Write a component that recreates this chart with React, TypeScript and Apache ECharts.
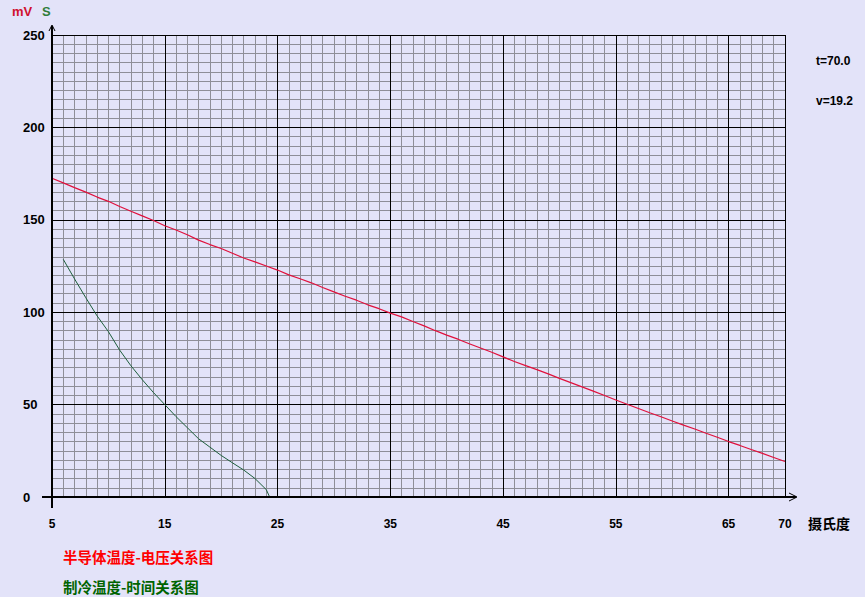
import React, { useEffect, useRef } from "react";
import * as echarts from "echarts";

// Semiconductor temperature (°C) vs. voltage (mV)
const voltTemps = [
  5, 6, 7, 8, 9, 10, 11, 12, 13, 14, 15, 16, 17, 18, 19, 20, 21, 22, 23, 24, 25,
  26, 27, 28, 29, 30, 31, 32, 33, 34, 35, 36, 37, 38, 39, 40, 41, 42, 43, 44, 45,
  46, 47, 48, 49, 50, 51, 52, 53, 54, 55, 56, 57, 58, 59, 60, 61, 62, 63, 64, 65,
  66, 67, 68, 69, 70,
];
const voltValues = [
  172.5, 170.0, 167.4, 165.0, 162.3, 160.0, 157.2, 154.6, 152.1, 149.6, 146.8,
  144.5, 141.9, 139.0, 136.6, 134.5, 131.9, 129.3, 127.2, 125.0, 122.8,
  120.2, 118.1, 115.9, 113.4, 111.0, 108.6, 106.5, 104.0, 101.9, 99.5,
  97.5, 95.0, 92.6, 90.0, 87.6, 85.4, 82.9, 80.6, 78.3, 75.8,
  73.3, 71.1, 68.9, 66.6, 64.2, 61.9, 59.6, 57.3, 54.9, 52.5,
  50.2, 47.9, 45.6, 43.4, 41.1, 38.9, 36.8, 34.5, 32.3, 30.0,
  27.9, 25.7, 23.6, 21.4, 19.2,
];

// Cooling temperature vs. time (s)
const coolTemps = [
  6, 7, 8, 9, 10, 11, 12, 13, 14, 15, 16, 17, 18, 19, 20, 21, 22, 23, 24, 24.3,
];
const coolTimes = [
  128.6, 118.0, 107.8, 98.0, 89.5, 79.5, 71.0, 63.5, 56.5, 50.0,
  43.5, 37.5, 31.5, 27.0, 22.5, 18.5, 14.6, 10.0, 4.0, 0,
];

const currentT = "70.0";
const currentV = "19.2";

const xAxisLabel = "摄氏度";
const voltTitle = "半导体温度-电压关系图";
const coolTitle = "制冷温度-时间关系图";

const BG = "#e3e3f9";
const MINOR = "#8e8e98";
const FONT = "'Liberation Sans', Arial, sans-serif";
const CJK = "'Noto Sans CJK SC', sans-serif";

export default function App() {
  const ref = useRef<HTMLDivElement>(null);

  useEffect(() => {
    if (!ref.current) return;
    const chart = echarts.init(ref.current, null, { renderer: "svg" });

    const voltData = voltTemps.map((t, i) => [t, voltValues[i]]);
    const coolData = coolTemps.map((t, i) => [t, coolTimes[i]]);

    const arrow = (points: number[][]) => ({
      type: "polyline",
      z: 100,
      shape: { points },
      style: { stroke: "#000", lineWidth: 1, fill: "none" },
    });

    chart.setOption({
      animation: false,
      backgroundColor: BG,
      grid: { left: 52, right: 80, top: 35, bottom: 100 },
      xAxis: [
        {
          type: "value",
          min: 5,
          max: 70,
          interval: 10,
          z: 2,
          axisLine: { show: false },
          axisTick: { show: false },
          axisLabel: {
            color: "#000",
            fontWeight: "bold",
            fontSize: 12,
            fontFamily: FONT,
            margin: 21,
          },
          splitLine: { show: true, lineStyle: { color: "#000", width: 1 } },
        },
        {
          type: "value",
          min: 5,
          max: 70,
          interval: 1,
          z: 1,
          axisLine: { show: false },
          axisTick: { show: false },
          axisLabel: { show: false },
          splitLine: { show: true, lineStyle: { color: MINOR, width: 1 } },
        },
      ],
      yAxis: [
        {
          type: "value",
          min: 0,
          max: 250,
          interval: 50,
          z: 2,
          axisLine: { show: false },
          axisTick: { show: false },
          axisLabel: {
            color: "#000",
            fontWeight: "bold",
            fontSize: 13,
            fontFamily: FONT,
            align: "left",
            margin: 29,
            padding: [0, 0, 4, 0],
          },
          splitLine: { show: true, lineStyle: { color: "#000", width: 1 } },
        },
        {
          type: "value",
          min: 0,
          max: 250,
          interval: 5,
          z: 1,
          axisLine: { show: false },
          axisTick: { show: false },
          axisLabel: { show: false },
          splitLine: { show: true, lineStyle: { color: MINOR, width: 1 } },
        },
      ],
      series: [
        {
          type: "line",
          name: voltTitle,
          data: voltData,
          xAxisIndex: 0,
          yAxisIndex: 0,
          showSymbol: false,
          symbol: "none",
          z: 10,
          lineStyle: { color: "#e0103c", width: 1.2 },
        },
        {
          type: "line",
          name: coolTitle,
          data: coolData,
          xAxisIndex: 0,
          yAxisIndex: 0,
          showSymbol: false,
          symbol: "none",
          z: 10,
          lineStyle: { color: "#1d5e3c", width: 1 },
        },
      ],
      graphic: [
        // axes
        {
          type: "line",
          z: 100,
          shape: { x1: 52, y1: 26, x2: 52, y2: 508 },
          style: { stroke: "#000", lineWidth: 2 },
        },
        {
          type: "line",
          z: 100,
          shape: { x1: 42, y1: 497, x2: 796, y2: 497 },
          style: { stroke: "#000", lineWidth: 2 },
        },
        arrow([
          [49, 31],
          [52, 25],
          [55, 31],
        ]),
        arrow([
          [789, 493],
          [797, 497],
          [789, 501],
        ]),
        // unit labels
        {
          type: "text",
          z: 100,
          left: 12,
          top: 5,
          style: {
            text: "mV",
            fill: "#d0102e",
            font: `bold 13px ${FONT}`,
          },
        },
        {
          type: "text",
          z: 100,
          left: 42,
          top: 5,
          style: {
            text: "S",
            fill: "#2f7d3a",
            font: `bold 13px ${FONT}`,
          },
        },
        {
          type: "text",
          z: 100,
          left: 808,
          top: 516,
          style: {
            text: xAxisLabel,
            fill: "#000",
            font: `bold 14px ${CJK}`,
          },
        },
        // readouts
        {
          type: "text",
          z: 100,
          left: 816,
          top: 55,
          style: {
            text: `t=${currentT}`,
            fill: "#000",
            font: `bold 12px ${FONT}`,
          },
        },
        {
          type: "text",
          z: 100,
          left: 816,
          top: 95,
          style: {
            text: `v=${currentV}`,
            fill: "#000",
            font: `bold 12px ${FONT}`,
          },
        },
        // chart titles
        {
          type: "text",
          z: 100,
          left: 63,
          top: 549,
          style: {
            text: voltTitle,
            fill: "#ff0000",
            font: `bold 14.5px ${CJK}`,
          },
        },
        {
          type: "text",
          z: 100,
          left: 63,
          top: 579,
          style: {
            text: coolTitle,
            fill: "#006400",
            font: `bold 14.5px ${CJK}`,
          },
        },
      ],
    });

    return () => chart.dispose();
  }, []);

  return (
    <div
      ref={ref}
      style={{ position: "fixed", left: 0, top: 0, width: 865, height: 597 }}
    />
  );
}
